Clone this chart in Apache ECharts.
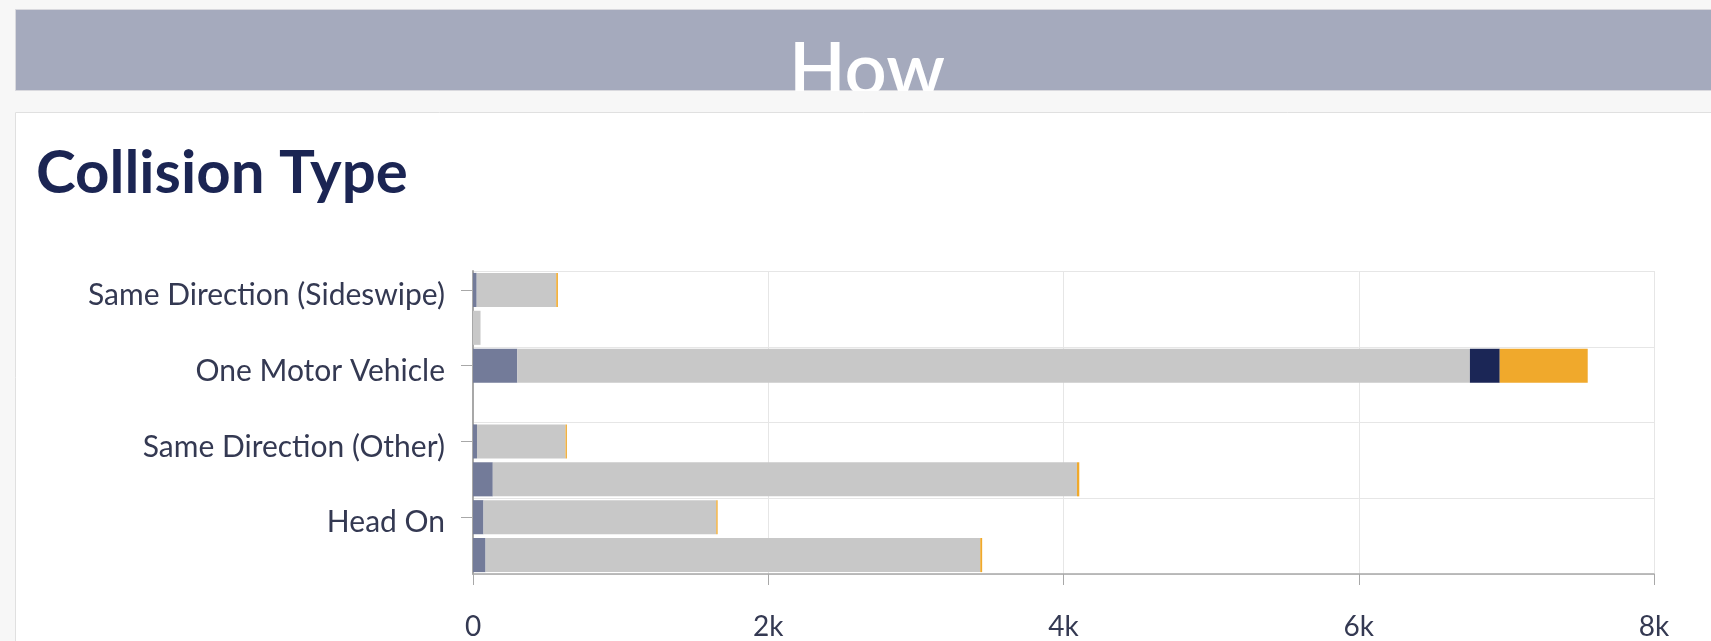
<!DOCTYPE html>
<html>
  <head>
    <title>How - Collision Type</title>
    <meta http-equiv="Content-Type" content="text/html; charset=utf-8" />
    <script type="text/javascript" src="https://cdn.jsdelivr.net/npm/echarts@6.0.0/dist/echarts.min.js"></script>
    <style>
      html, body { margin: 0; padding: 0; background: #f7f7f7; }
      #main { width: 1711px; height: 641px; }
    </style>
  </head>
  <body>
    <div id="main"></div>

    <script type="text/javascript">
      // categories, top to bottom (only every other label is shown)
      var categories = ['Same Direction (Sideswipe)', 'Opposite Direction (Sideswipe)', 'One Motor Vehicle', 'Unknown',
                        'Same Direction (Other)', 'Angle', 'Head On', 'Rear End'];

      // stacked segments, left to right
      var seriesNames = ['Segment 1', 'Segment 2', 'Segment 3', 'Segment 4'];
      var segment1 = [25, 0, 300, 0, 27, 134, 71, 85];
      var segment2 = [539, 51, 6453, 0, 600, 3957, 1577, 3351];
      var segment3 = [0, 0, 202, 0, 0, 0, 0, 0];
      var segment4 = [11, 0, 596, 0, 9, 16, 9, 13];

      var xTicks = [0, 2000, 4000, 6000, 8000];
      var xTickLabels = ['0', '2k', '4k', '6k', '8k'];

      var colors = ['#737b99', '#c8c8c8', '#1b2656', '#f0a92c'];
      var labelColor = '#343952';

      var chart = echarts.init(document.getElementById('main'));

      function makeSeries(name, data, color) {
        return {
          name: name,
          type: 'bar',
          stack: 'total',
          barCategoryGap: '10%',
          itemStyle: { color: color },
          data: data
        };
      }

      var option = {
        backgroundColor: '#f7f7f7',
        animation: false,
        textStyle: { fontFamily: 'Lato' },
        graphic: [
          // header band (drawn under the axes, hence the negative z)
          { type: 'rect', z: -10, shape: { x: 15.5, y: 9.5, width: 1720, height: 81 },
            style: { fill: '#a5aabd', stroke: '#d9d9de', lineWidth: 1 } },
          { type: 'text', z: -9, x: 867, y: 71,
            style: { text: 'How', fill: '#ffffff', font: '600 74px Lato', align: 'center', verticalAlign: 'middle' } },
          // gap between band and panel hides the bottom of "How"
          { type: 'rect', z: -8, shape: { x: 0, y: 91, width: 1711, height: 21 },
            style: { fill: '#f7f7f7' } },
          // white panel
          { type: 'rect', z: -7, shape: { x: 15.5, y: 112.5, width: 1720, height: 560 },
            style: { fill: '#ffffff', stroke: '#e0e0e0', lineWidth: 1 } },
          { type: 'text', z: -6, x: 36, y: 174,
            style: { text: 'Collision Type', fill: '#1b2553', font: 'bold 60px Lato', align: 'left', verticalAlign: 'middle' } }
        ],
        grid: {
          left: 473,
          top: 271,
          width: 1181,
          height: 304,
          containLabel: false
        },
        xAxis: {
          type: 'value',
          min: 0,
          max: 8000,
          interval: 2000,
          axisLine: { show: true, lineStyle: { color: '#a8a8a8', width: 1.5 } },
          axisTick: { show: true, length: 11, lineStyle: { color: '#a8a8a8' } },
          splitLine: { show: true, lineStyle: { color: '#e6e6e6', width: 1 } },
          axisLabel: {
            margin: 39,
            fontSize: 28,
            color: labelColor,
            formatter: function (v) {
              var i = xTicks.indexOf(v);
              return i >= 0 ? xTickLabels[i] : '';
            }
          }
        },
        yAxis: {
          type: 'category',
          inverse: true,
          data: categories,
          axisLine: { show: true, lineStyle: { color: '#a8a8a8', width: 2 } },
          axisTick: { show: true, alignWithLabel: true, interval: 1, length: 12, lineStyle: { color: '#a8a8a8' } },
          splitLine: { show: true, interval: 1, lineStyle: { color: '#e6e6e6', width: 1 } },
          axisLabel: {
            interval: 1,
            margin: 28,
            fontSize: 30,
            verticalAlign: 'top',
            lineHeight: 11,
            color: labelColor
          }
        },
        series: [
          makeSeries(seriesNames[0], segment1, colors[0]),
          makeSeries(seriesNames[1], segment2, colors[1]),
          makeSeries(seriesNames[2], segment3, colors[2]),
          makeSeries(seriesNames[3], segment4, colors[3])
        ]
      };

      chart.setOption(option);
    </script>
  </body>
</html>
